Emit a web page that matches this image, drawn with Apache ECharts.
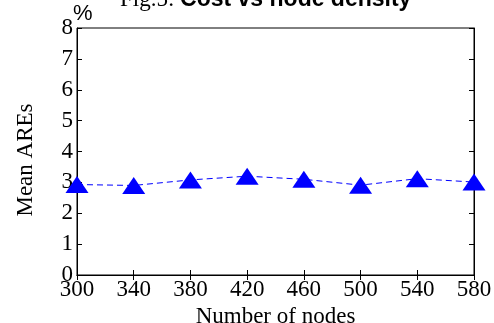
<!DOCTYPE html>
<html>
<head>
<meta charset="utf-8">
<script src="https://cdn.jsdelivr.net/npm/echarts@6/dist/echarts.min.js"></script>
<style>html,body{margin:0;padding:0;background:#fff;}#chart{width:494px;height:323px;}</style>
</head>
<body>
<div id="chart"></div>
<script>
const nodeCounts = ['300', '340', '380', '420', '460', '500', '540', '580'];
const meanAREs = [2.93, 2.9, 3.08, 3.2, 3.1, 2.91, 3.12, 3.01];
const yTicks = [0, 1, 2, 3, 4, 5, 6, 7, 8];

const chart = echarts.init(document.getElementById('chart'), null, {renderer: 'canvas'});
const serif = 'Liberation Serif, Times New Roman, serif';
const tickStyle = {show: true, inside: true, length: 5, lineStyle: {color: '#000', width: 1}};
chart.setOption({
  animation: false,
  backgroundColor: '#fff',
  title: {
    text: '{a|Fig.5: }{b|Cost vs node density}',
    left: 115, top: -17,
    textStyle: {
      fontWeight: 'normal',
      rich: {
        a: {fontFamily: serif, fontWeight: 'normal', fontSize: 23, color: '#000'},
        b: {fontFamily: 'Liberation Sans, Arial, sans-serif', fontWeight: 'bold', fontSize: 23, color: '#000'}
      }
    }
  },
  graphic: [{
    type: 'text', left: 73, top: 3,
    style: {text: '%', font: '22px Liberation Sans, Arial, sans-serif', fill: '#000'}
  }, {
    type: 'text', x: 26, y: 160, rotation: Math.PI / 2,
    style: {text: 'Mean AREs', font: '23px Liberation Serif, Times New Roman, serif', fill: '#000', align: 'center', verticalAlign: 'middle'}
  }],
  grid: {left: 77, right: 20, top: 28, bottom: 48, show: true, borderColor: '#000', borderWidth: 1, containLabel: false, outerBoundsMode: 'none'},
  xAxis: [{
    type: 'category', data: nodeCounts, boundaryGap: false, position: 'bottom',
    axisLine: {show: true, lineStyle: {color: '#000', width: 1}},
    axisTick: tickStyle,
    axisLabel: {fontFamily: serif, fontSize: 23, color: '#000', margin: 3},
    name: 'Number of nodes', nameLocation: 'middle', nameGap: 25,
    nameTextStyle: {fontFamily: serif, fontSize: 23, color: '#000'},
    splitLine: {show: false}
  }, {
    type: 'category', data: nodeCounts, boundaryGap: false, position: 'top',
    axisLine: {show: true, lineStyle: {color: '#000', width: 1}},
    axisTick: tickStyle, axisLabel: {show: false}, splitLine: {show: false}
  }],
  yAxis: [{
    type: 'value', min: yTicks[0], max: yTicks[yTicks.length - 1], interval: 1, position: 'left',
    axisLine: {show: true, lineStyle: {color: '#000', width: 1}},
    axisTick: tickStyle,
    axisLabel: {fontFamily: serif, fontSize: 23, color: '#000', margin: 4, verticalAlign: 'middle'},
    splitLine: {show: false}
  }, {
    type: 'value', min: yTicks[0], max: yTicks[yTicks.length - 1], interval: 1, position: 'right',
    axisLine: {show: true, lineStyle: {color: '#000', width: 1}},
    axisTick: tickStyle, axisLabel: {show: false}, splitLine: {show: false}
  }],
  series: [{
    type: 'line', xAxisIndex: 0, yAxisIndex: 0,
    data: meanAREs,
    symbol: 'triangle', symbolSize: [23, 17],
    itemStyle: {color: '#0000ff'},
    lineStyle: {color: '#0000ff', width: 1, type: [6, 4]}
  }]
});
</script>
</body>
</html>
